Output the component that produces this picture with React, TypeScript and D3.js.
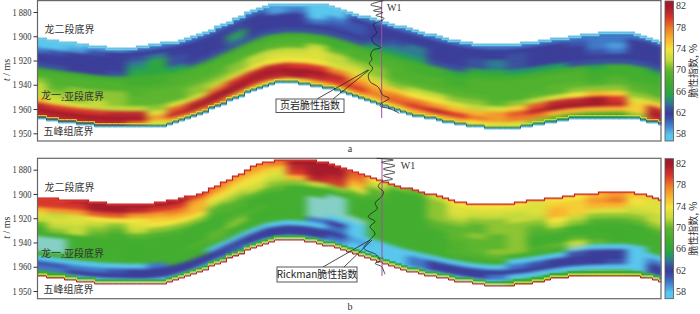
import React, { useRef, useEffect } from "react";
import * as d3 from "d3";

const tickValues = [1880, 1900, 1920, 1940, 1960, 1980];
const tickLabels = ["1 880", "1 900", "1 920", "1 940", "1 960", "1 950"];
const barTicks = [82, 78, 74, 70, 66, 62, 58];

// 57 sits just under the colour bar, the pale blue-green patches in panel b
const colorValues = [57, 58, 59, 60, 61, 62, 63, 64, 65, 66, 68, 70, 71, 72, 74, 76, 78, 80, 82];
const colorHex = ["#84cfc6", "#58c6ee", "#4c9edc", "#3f78c8", "#3b55ad", "#3a3d98", "#39509f", "#2f7a92", "#229a62", "#2ca63f", "#41ad2e", "#5cb52e", "#8cc432", "#c4d93a", "#f3e43c", "#f7b52e", "#ee7d27", "#d8362a", "#a51a2b"];

// horizons, ms, one value per trace
const topA = [1901.3, 1903.8, 1905.4, 1907.9, 1909.5, 1909.1, 1906.2, 1903.8, 1899.7, 1892.3, 1884.9, 1876.7, 1872.6, 1872.6, 1872.6, 1875.9, 1881.6, 1885.7, 1890.7, 1894.8, 1899.7, 1903.8, 1906.2, 1907.1, 1906.2, 1903.8, 1901.3, 1899.7, 1897.2, 1897.2, 1897.2, 1903];
const topB = [1903.2, 1904, 1904.8, 1906.5, 1908.1, 1908.1, 1907.3, 1904.4, 1900.7, 1893.4, 1885.2, 1876.1, 1872, 1872, 1872.9, 1876.1, 1881.9, 1887.6, 1893.4, 1896.6, 1901.6, 1906.5, 1908.9, 1908.9, 1907.3, 1904.8, 1903.2, 1900.7, 1899.1, 1899.1, 1899.1, 1904];
const base = [1966.9, 1969.4, 1971.8, 1973.5, 1974.3, 1974.3, 1974.7, 1971, 1965.3, 1957.9, 1950.5, 1943.1, 1938.2, 1938.2, 1940.7, 1944, 1949.7, 1955.4, 1961.2, 1965.3, 1968.6, 1971.8, 1974.3, 1975.9, 1975.1, 1972.7, 1969.4, 1967.7, 1966.9, 1966.9, 1966.9, 1971.8];

// brittleness, %, rows go from the top horizon to the base
const gridA = [
  [58, 58, 58, 59, 59, 60, 60, 60, 60, 60, 60, 60, 59, 59, 58, 58, 60, 60, 60, 60, 60, 60, 60, 60, 60, 60, 60, 60, 60, 60, 60, 60],
  [58, 58, 59, 61, 62, 62, 62, 62, 62, 62, 62, 62, 59, 60, 58, 58, 62, 62, 62, 62, 62, 62, 62, 62, 62, 62, 62, 61, 60, 60, 62, 62],
  [60, 61, 62, 62, 62, 63, 64, 62, 62, 62, 63, 62, 62, 62, 58, 60, 61, 62, 62, 62, 62, 62, 62, 62, 63, 62, 62, 62, 60, 59, 62, 62],
  [62, 62, 62, 62, 62, 64, 66, 63, 62, 62, 66, 62, 62, 62, 60, 61, 61, 62, 63, 64, 62, 62, 63, 64, 63, 62, 62, 62, 61, 60, 62, 62],
  [62, 62, 62, 62, 62, 65, 66, 63, 62, 62, 64, 62, 62, 62, 62, 62, 62, 63, 64, 64, 62, 62, 63, 64, 63, 62, 62, 62, 62, 62, 62, 62],
  [63, 63, 62, 62, 63, 66, 66, 65, 63, 63, 63, 63, 63, 63, 63, 63, 63, 65, 65, 65, 63, 63, 66, 66, 65, 65, 65, 63, 63, 63, 63, 63],
  [68, 68, 68, 68, 68, 68, 68, 68, 68, 68, 68, 68, 68, 68, 68, 68, 68, 68, 68, 68, 68, 66, 68, 68, 68, 68, 68, 68, 66, 68, 68, 66],
  [69, 69, 69, 69, 69, 68, 68, 69, 69, 69, 69, 69, 69, 69, 69, 68, 69, 69, 69, 68, 68, 68, 69, 69, 69, 69, 69, 69, 68, 68, 68, 68],
  [71, 69, 69, 69, 69, 69, 69, 69, 69, 69, 69, 69, 70, 70, 72, 70, 69, 70, 69, 69, 69, 68, 69, 69, 69, 69, 69, 69, 68, 69, 68, 68],
  [72, 70, 71, 71, 71, 69, 70, 70, 70, 70, 71, 72, 72, 72, 73, 72, 71, 71, 69, 69, 69, 69, 69, 69, 69, 69, 70, 70, 69, 70, 69, 69],
  [72, 71, 71, 71, 71, 70, 70, 70, 71, 71, 71, 72, 73, 73, 73, 72, 72, 71, 70, 70, 70, 70, 70, 69, 69, 70, 70, 71, 71, 71, 70, 69],
  [72, 72, 71, 72, 71, 70, 70, 70, 71, 72, 73, 74, 74, 74, 74, 73, 73, 72, 71, 72, 72, 71, 71, 70, 71, 72, 73, 74, 76, 75, 71, 71],
  [76, 73, 73, 72, 72, 72, 71, 73, 73, 78, 80, 81, 81, 80, 80, 78, 76, 75, 75, 74, 74, 73, 72, 73, 75, 79, 81, 81, 82, 80, 73, 75],
  [81, 80, 80, 80, 81, 81, 73, 79, 81, 82, 82, 82, 82, 82, 82, 81, 78, 77, 78, 78, 77, 76, 76, 77, 79, 81, 82, 82, 82, 81, 75, 81],
  [82, 82, 82, 82, 82, 82, 77, 81, 82, 82, 82, 81, 81, 82, 81, 80, 80, 78, 79, 80, 81, 80, 78, 77, 78, 78, 76, 76, 76, 76, 75, 82],
  [81, 81, 81, 81, 81, 78, 73, 76, 77, 78, 76, 75, 75, 75, 76, 76, 76, 75, 75, 76, 76, 76, 74, 73, 73, 71, 70, 68, 68, 68, 71, 80],
];

const gridB = [
  [80, 80, 81, 82, 82, 82, 82, 82, 80, 78, 77, 77, 78, 82, 82, 82, 79, 74, 71, 70, 72, 74, 74, 74, 74, 73, 74, 74, 76, 77, 75, 73],
  [80, 80, 80, 82, 82, 81, 80, 80, 77, 76, 75, 75, 75, 81, 82, 82, 78, 72, 68, 68, 71, 73, 73, 73, 73, 73, 75, 75, 77, 78, 74, 73],
  [76, 77, 77, 79, 79, 77, 77, 78, 76, 74, 74, 74, 73, 80, 82, 81, 76, 70, 68, 68, 71, 73, 72, 72, 72, 73, 76, 75, 76, 76, 73, 73],
  [73, 72, 73, 74, 74, 74, 75, 76, 76, 72, 72, 73, 72, 76, 81, 80, 73, 69, 68, 68, 71, 72, 71, 71, 72, 72, 76, 75, 73, 73, 72, 72],
  [72, 73, 73, 72, 71, 73, 74, 74, 74, 70, 71, 72, 71, 71, 72, 71, 70, 68, 68, 68, 71, 71, 70, 71, 71, 71, 74, 72, 71, 71, 71, 72],
  [70, 72, 72, 71, 70, 72, 71, 71, 71, 69, 69, 70, 70, 68, 68, 68, 68, 68, 68, 68, 70, 70, 70, 71, 71, 70, 72, 71, 69, 69, 70, 71],
  [68, 71, 72, 70, 68, 70, 69, 69, 68, 68, 69, 68, 68, 68, 68, 57, 68, 68, 68, 68, 69, 70, 71, 70, 71, 69, 70, 68, 68, 68, 68, 69],
  [68, 68, 68, 68, 68, 68, 68, 68, 68, 68, 68, 68, 68, 68, 57, 57, 68, 68, 68, 68, 68, 70, 70, 70, 71, 68, 68, 68, 68, 68, 68, 68],
  [57, 57, 68, 68, 68, 68, 68, 68, 68, 68, 70, 69, 68, 68, 57, 57, 68, 68, 68, 68, 68, 69, 70, 70, 71, 68, 68, 70, 68, 68, 68, 68],
  [57, 57, 68, 68, 68, 68, 68, 68, 68, 70, 71, 68, 68, 68, 57, 57, 57, 68, 68, 68, 68, 69, 70, 71, 71, 69, 70, 72, 70, 68, 68, 68],
  [57, 57, 68, 68, 68, 68, 68, 68, 69, 70, 68, 68, 68, 68, 57, 58, 58, 68, 68, 68, 68, 69, 69, 70, 68, 68, 68, 57, 58, 58, 58, 68],
  [68, 68, 68, 68, 68, 68, 68, 68, 68, 68, 68, 68, 68, 68, 60, 62, 58, 68, 68, 68, 68, 68, 68, 68, 58, 58, 58, 61, 62, 62, 58, 58],
  [58, 58, 58, 58, 58, 58, 60, 68, 68, 58, 58, 58, 58, 58, 58, 60, 58, 58, 58, 58, 58, 58, 58, 58, 60, 61, 62, 62, 62, 62, 58, 60],
  [61, 61, 60, 60, 61, 62, 62, 62, 62, 62, 62, 62, 62, 62, 62, 62, 59, 58, 58, 60, 62, 62, 62, 62, 62, 62, 62, 62, 62, 61, 58, 62],
  [60, 60, 62, 62, 62, 62, 62, 62, 62, 62, 61, 62, 62, 62, 62, 60, 58, 58, 58, 60, 62, 62, 62, 60, 58, 58, 58, 58, 58, 58, 58, 62],
  [68, 68, 58, 58, 58, 58, 58, 58, 58, 58, 60, 58, 58, 58, 58, 58, 58, 58, 58, 58, 58, 58, 58, 58, 68, 68, 68, 68, 70, 70, 68, 58],
];

// W1 logs: time in ms and curve reading
const logTimeA = [1870.7, 1874, 1876.7, 1878.9, 1880.5, 1882.7, 1885.2, 1887.1, 1889.9, 1893.5, 1897.6, 1900.9, 1905.3, 1909.4, 1911.3, 1915.4, 1919, 1922.3, 1926.4, 1931.9, 1937.4, 1942, 1948.4, 1951.1, 1955.2, 1957.5, 1959.7, 1963.5];
const logValueA = [130, 92, 125, 100, 128, 108, 132, 125, 100, 105, 110, 96, 100, 122, 100, 92, 96, 88, 98, 85, 90, 115, 128, 148, 125, 120, 150, 178];
const logTimeB = [1870.6, 1872, 1873.9, 1876.7, 1879.4, 1882.2, 1884.9, 1887.7, 1889.9, 1894, 1898.1, 1902.2, 1907.7, 1911.8, 1918.7, 1922.8, 1926.9, 1932.4, 1937.9, 1944.8, 1950.3, 1955.2, 1957.2, 1959.9, 1962.7, 1966.2];
const logValueB = [110, 160, 125, 165, 130, 165, 130, 158, 125, 115, 130, 125, 105, 112, 85, 105, 90, 105, 90, 72, 110, 120, 105, 125, 130, 135];

const traces = d3.range(topA.length);
const left = 37.5;
const right = 661;
const serif = "'Liberation Serif', serif";
const cjk = "'Noto Sans CJK SC', sans-serif";
const ink = "#333";

const color = d3.scaleLinear<string>().domain(colorValues).range(colorHex).clamp(true);
const xScale = d3.scaleLinear().domain([0, traces.length - 1]).range([37, 657]);
const logX = d3.scaleLinear().domain([0, 210]).range([340, 410]);

const Axis = ({ y }) => {
  const ref = useRef<SVGGElement>(null);
  useEffect(() => {
    const axis = d3
      .axisLeft(y)
      .tickValues(tickValues)
      .tickSize(4)
      .tickPadding(2)
      .tickFormat((d, i) => tickLabels[i]);
    const g = d3.select(ref.current);
    g.call(axis);
    g.select(".domain").remove();
    g.selectAll("line").attr("stroke", ink);
    g.selectAll("text")
      .attr("font-family", serif)
      .attr("font-size", 10)
      .attr("fill", ink)
      .attr("textLength", 19)
      .attr("lengthAdjust", "spacingAndGlyphs");
  }, [y]);
  return <g ref={ref} transform={`translate(${left},0)`} />;
};

const Label = ({ x, y, text }) => (
  <text x={x} y={y} fontFamily={cjk} fontSize={10} fill={ink} dominantBaseline="middle">
    {text}
  </text>
);

const Panel = ({ id, y0, grid, top, logTime, logValue, line, wellX, w1x, letter, box, boxText, leaders, rim }) => {
  const y = d3.scaleLinear().domain([1880, 1980]).range([y0 + 12, y0 + 133.3]);
  const topPx = d3.scaleLinear().domain(traces).range(top.map((d) => y(d)));
  const basePx = d3.scaleLinear().domain(traces).range(base.map((d) => y(d)));
  const rowCount = grid.length;
  const depth = (t, f) => topPx(t) + (basePx(t) - topPx(t)) * f;

  // one skewed cell per value, following the horizons
  const cell = (c, r) => {
    const a = c - 0.5;
    const b = c + 0.5;
    const f0 = r === 0 ? -0.2 : r / rowCount;
    const f1 = r === rowCount - 1 ? 1.2 : (r + 1) / rowCount;
    return d3.line()([
      [xScale(a), depth(a, f0)],
      [xScale(b), depth(b, f0)],
      [xScale(b), depth(b, f1)],
      [xScale(a), depth(a, f1)],
    ]) + "Z";
  };

  // the horizons are picked on a coarse grid, so they show as small steps
  const samples = d3.range(xScale.invert(left), xScale.invert(right) + 0.2, 0.3);
  const stepTop = samples.map((t) => [xScale(t), Math.round(topPx(t) / 2) * 2] as [number, number]);
  const stepBase = samples.map((t) => [xScale(t), Math.round(basePx(t) / 2) * 2] as [number, number]);
  const stepLine = d3.line().curve(d3.curveStep);
  const shape = d3
    .area<number>()
    .curve(d3.curveStep)
    .x((t) => xScale(t))
    .y0((t) => Math.round(topPx(t) / 2) * 2)
    .y1((t) => Math.round(basePx(t) / 2) * 2)(samples);
  const logLine = d3
    .line<number>()
    .x((d) => logX(d))
    .y((d, i) => y(logTime[i]))
    .curve(d3.curveCatmullRom)(logValue);
  const barY = d3.scaleLinear().domain([58, 82]).range([y0 + 135, y0 + 7]);

  return (
    <g>
      <defs>
        <clipPath id={`${id}-clip`}>
          <path d={shape} />
        </clipPath>
        <filter id={`${id}-blur`} x={0} y={y0 - 30} width={720} height={210} filterUnits="userSpaceOnUse" colorInterpolationFilters="sRGB">
          <feGaussianBlur stdDeviation="4.5 1.6" />
        </filter>
        <filter id={`${id}-soft`} x={0} y={y0 - 30} width={720} height={210} filterUnits="userSpaceOnUse" colorInterpolationFilters="sRGB">
          <feGaussianBlur stdDeviation="0.6" />
        </filter>
        <linearGradient id={`${id}-bar`} gradientUnits="userSpaceOnUse" x1={0} x2={0} y1={barY(58)} y2={barY(82)}>
          {colorValues
            .filter((v) => v >= 58)
            .map((v) => (
              <stop key={v} offset={(v - 58) / 24} stopColor={color(v)} />
            ))}
        </linearGradient>
      </defs>

      <g clipPath={`url(#${id}-clip)`}>
        <g filter={`url(#${id}-blur)`}>
          {grid.map((row, r) =>
            row.map((v, c) => <path key={`${r}-${c}`} d={cell(c, r)} fill={color(v)} stroke={color(v)} strokeWidth={0.6} />)
          )}
        </g>
        <g filter={`url(#${id}-soft)`} fill="none">
          {rim.base.map((s, i) => (
            <path key={i} d={stepLine(stepBase.map(([px, py]) => [px, py - s.dy]))} stroke={s.color} strokeWidth={s.width} />
          ))}
          {rim.top.map((s, i) => (
            <path key={i} d={stepLine(stepTop.map(([px, py]) => [px, py + s.dy]))} stroke={s.color} strokeWidth={s.width} />
          ))}
        </g>
      </g>
      <path d={stepLine(stepTop)} fill="none" stroke={rim.topLine} strokeWidth={1.2} />
      {rim.under && <path d={stepLine(stepBase.map(([px, py]) => [px, py + 1]))} fill="none" stroke={rim.under} strokeWidth={1} />}
      <path d={stepLine(stepBase)} fill="none" stroke={rim.baseLine} strokeWidth={1} />

      <rect x={left} y={y0 + 0.6} width={right - left} height={140.4} fill="none" stroke="#666" strokeWidth={1.2} />
      <Axis y={y} />
      <text transform={`translate(10,${y0 + 70}) rotate(-90)`} textAnchor="middle" fontFamily={serif} fontSize={10} fill={ink}>
        <tspan fontStyle="italic">t</tspan> / ms
      </text>

      <Label x={44.5} y={y0 + 30.5} text="龙二段底界" />
      <text x={41} y={y0 + 96.5} fontFamily={cjk} fontSize={10} fill={ink} dominantBaseline="middle">
        龙一<tspan fontSize={6} dy={3} fontFamily={serif}>2</tspan>
        <tspan dy={-3}>亚段底界</tspan>
      </text>
      <Label x={43.5} y={y0 + 132.5} text="五峰组底界" />

      <path d={`M${wellX},${y0 + 1}V${line}`} stroke="#a0509a" strokeWidth={1} fill="none" />
      <path d={logLine} fill="none" stroke="#222" strokeWidth={0.8} />
      <text x={w1x} y={y0 + 9} fontFamily={serif} fontSize={10} fill={ink} dominantBaseline="middle">
        W1
      </text>

      {leaders.map((d, i) => (
        <path key={i} d={d3.line()(d)} fill="none" stroke="#222" strokeWidth={0.8} />
      ))}
      <rect x={box[0]} y={box[1]} width={box[2]} height={box[3]} fill="#fff" stroke="#444" strokeWidth={0.9} />
      <text x={box[0] + box[2] / 2} y={box[1] + box[3] / 2 + 0.5} textAnchor="middle" dominantBaseline="middle" fontFamily={cjk} fontSize={10} fill="#222">
        {boxText}
      </text>

      <rect x={665} y={y0 + 1} width={8.5} height={140} fill={`url(#${id}-bar)`} stroke="#555" strokeWidth={0.8} />
      {barTicks.map((v) => (
        <text key={v} x={676} y={barY(v)} dominantBaseline="middle" fontFamily={serif} fontSize={10} fill={ink}>
          {v}
        </text>
      ))}
      <text transform={`translate(694,${y0 + 71}) rotate(-90)`} textAnchor="middle" dominantBaseline="middle" fontFamily={cjk} fontSize={10} fill={ink}>
        脆性指数, %
      </text>

      <text x={350} y={y0 + 150} textAnchor="middle" dominantBaseline="middle" fontFamily={serif} fontSize={10} fill={ink}>
        {letter}
      </text>
    </g>
  );
};

export default function App() {
  return (
    <svg width={700} height={314} style={{ position: "absolute", left: 0, top: 0, background: "#fff" }}>
      <Panel
        id="a"
        y0={0}
        grid={gridA}
        top={topA}
        logTime={logTimeA}
        logValue={logValueA}
        line={118}
        wellX={381.7}
        w1x={387}
        letter="a"
        box={[276, 99, 68, 13.5]}
        boxText="页岩脆性指数"
        leaders={[
          [[317, 99], [368, 70]],
          [[333, 99], [369, 70]],
        ]}
        rim={{
          top: [{ dy: 1.2, color: "#6fc8e6", width: 2 }],
          base: [
            { dy: 1, color: "#2f9a6a", width: 1 },
            { dy: 2.4, color: "#d7d83c", width: 1 },
          ],
          topLine: "#6cc6e4",
          baseLine: "#14708a",
          under: "#5cc0e8",
        }}
      />
      <Panel
        id="b"
        y0={157.7}
        grid={gridB}
        top={topB}
        logTime={logTimeB}
        logValue={logValueB}
        line={276}
        wellX={382}
        w1x={400.7}
        letter="b"
        box={[277, 267, 80, 15]}
        boxText="Rickman脆性指数"
        leaders={[
          [[323, 267], [370, 240]],
          [[344, 267], [372, 240]],
        ]}
        rim={{
          top: [{ dy: 0.8, color: "#e8543a", width: 1 }],
          base: [
            { dy: 3.6, color: "#35a83f", width: 2.2 },
            { dy: 1.8, color: "#e6df3a", width: 1.2 },
          ],
          topLine: "#c81e22",
          baseLine: "#c81e22",
          under: null,
        }}
      />
    </svg>
  );
}
